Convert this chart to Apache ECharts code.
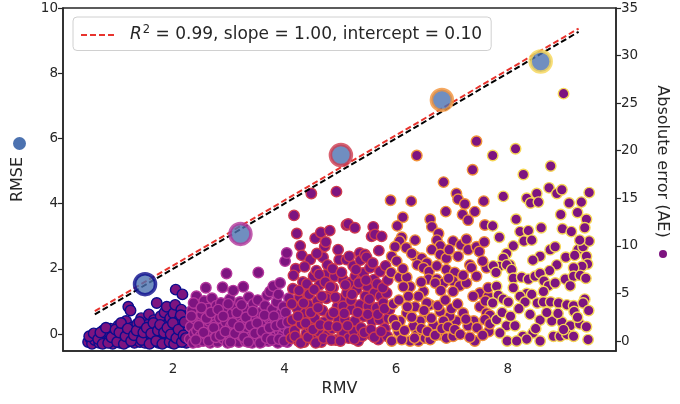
<!DOCTYPE html>
<html>
<head>
<meta charset="utf-8">
<script src="https://cdn.jsdelivr.net/npm/echarts@6/dist/echarts.min.js"></script>
<style>
  html, body { margin: 0; padding: 0; background: #fff; }
  #main { width: 680px; height: 404px; }
</style>
</head>
<body>
<div id="main"></div>
<script>
// fit stats shown in legend
const r2 = 0.99, slope = 1.00, intercept = 0.10;
const fitX = [0.6, 9.27];

// binned RMSE vs RMV (big circles, left axis)
const binRmv = [1.50, 3.21, 5.01, 6.82, 8.59];
const binRmse = [1.53, 3.07, 5.49, 7.18, 8.36];
const binColors = ['#0c0c8c', '#b4379b', '#cf3b4d', '#f29238', '#f6d655'];

// per-point absolute error vs RMV (right axis), one list per bin
const bin1 = [[0.48,-0.1],[0.52,0.3],[0.55,-0.3],[0.6,0.1],[0.63,0.6],[0.68,-0.2],[0.72,0.3],[0.75,1.1],[0.78,-0.1],[0.82,0.5],[0.86,0.1],[0.88,1.3],[0.92,-0.3],[0.95,0.7],[0.98,0.2],[1.02,1.6],[1.05,-0.2],[1.08,0.4],[1.1,1.0],[1.13,0.1],[1.16,2.1],[1.18,-0.1],[1.2,3.6],[1.22,0.6],[1.24,3.2],[1.26,1.4],[1.28,0.2],[1.31,-0.2],[1.33,0.9],[1.36,1.8],[1.38,0.3],[1.41,-0.1],[1.43,2.4],[1.45,0.7],[1.48,1.2],[1.5,-0.2],[1.52,0.2],[1.55,1.7],[1.57,2.8],[1.59,0.5],[1.62,-0.1],[1.64,1.0],[1.66,2.2],[1.68,0.3],[1.71,4.0],[1.72,1.5],[1.74,-0.2],[1.76,0.7],[1.78,2.6],[1.8,0.1],[1.82,1.2],[1.85,3.0],[1.86,-0.1],[1.88,0.6],[1.89,3.6],[1.91,1.8],[1.93,0.2],[1.95,2.4],[1.97,-0.2],[1.99,1.0],[2.01,2.9],[2.03,0.4],[2.04,3.8],[2.05,5.4],[2.07,1.5],[2.09,-0.1],[2.11,2.2],[2.13,0.8],[2.15,3.3],[2.17,4.9],[2.18,0.1],[2.2,1.7],[2.22,2.6],[2.24,-0.2],[2.26,1.1],[2.27,0.5],
  [0.5,0.5],[0.58,0.8],[0.66,0.2],[0.7,0.9],[0.74,-0.3],[0.8,1.4],[0.84,-0.2],[0.9,0.4],[0.97,1.2],[1.0,-0.1],[1.04,0.9],[1.07,1.9],[1.12,-0.3],[1.15,0.5],[1.19,1.3],[1.25,0.0],[1.3,0.6],[1.35,1.1],[1.4,2.0],[1.44,0.1],[1.47,0.9],[1.53,1.4],[1.58,-0.3],[1.61,0.8],[1.65,1.9],[1.7,0.0],[1.73,1.1],[1.77,1.7],[1.81,-0.3],[1.84,0.9],[1.9,1.4],[1.94,-0.1],[1.96,0.7],[2.0,1.9],[2.02,-0.3],[2.06,0.3],[2.1,1.2],[2.14,2.7],[2.16,-0.1],[2.19,0.6],[2.21,2.0],[2.23,0.3]];
const bin2 = [[2.3,0.2],[2.32,1.5],[2.34,3.2],[2.36,-0.2],[2.38,0.8],[2.4,2.3],[2.42,4.7],[2.43,1.1],[2.45,-0.1],[2.47,3.8],[2.49,0.5],[2.5,1.9],[2.52,2.8],[2.54,0.0],[2.56,4.2],[2.58,1.3],[2.59,5.6],[2.61,0.6],[2.63,3.4],[2.65,2.1],[2.67,-0.2],[2.69,1.0],[2.7,4.5],[2.72,2.7],[2.74,0.3],[2.76,1.7],[2.78,3.7],[2.8,-0.1],[2.82,0.9],[2.84,2.4],[2.86,4.0],[2.88,1.4],[2.89,5.65],[2.91,0.2],[2.93,3.1],[2.95,2.0],[2.96,7.1],[2.98,-0.2],[3.0,0.7],[3.02,4.4],[3.04,1.6],[3.06,2.9],[3.08,5.3],[3.1,0.1],[3.12,3.6],[3.14,1.1],[3.16,2.3],[3.18,-0.1],[3.2,4.1],[3.22,0.6],[3.24,1.8],[3.26,5.7],[3.28,2.8],[3.3,0.0],[3.32,3.3],[3.34,1.3],[3.36,4.6],[3.38,0.4],[3.4,2.2],[3.42,-0.2],[3.44,3.9],[3.46,1.0],[3.48,2.6],[3.5,0.3],[3.52,4.3],[3.53,7.2],[3.55,1.5],[3.57,3.0],[3.59,-0.1],[3.61,2.0],[3.63,0.7],[3.65,3.7],[3.67,1.2],[3.69,4.8],[3.71,0.0],[3.72,2.4],[3.74,5.2],[3.76,1.7],[3.78,3.3],[3.8,5.75],[3.82,0.4],[3.84,2.1],[3.86,4.1],[3.88,-0.2],[3.89,4.9],[3.91,1.0],[3.92,6.1],[3.94,2.9],[3.96,0.6],[3.98,3.6],[4.0,1.4],[4.01,8.4],[4.03,2.5],[4.04,9.25],[4.05,-0.1],[4.07,0.9],[4.08,4.5],
  [2.33,2.6],[2.37,4.0],[2.41,0.1],[2.46,1.6],[2.51,3.5],[2.55,0.9],[2.6,2.4],[2.64,0.0],[2.68,3.0],[2.73,1.4],[2.77,0.4],[2.81,3.3],[2.85,0.6],[2.9,2.6],[2.94,1.0],[2.99,3.9],[3.03,-0.1],[3.07,1.9],[3.11,0.8],[3.15,3.0],[3.19,1.5],[3.23,3.8],[3.27,0.4],[3.31,2.5],[3.35,-0.1],[3.39,1.6],[3.43,3.1],[3.47,0.8],[3.51,1.9],[3.56,-0.2],[3.6,1.0],[3.64,2.7],[3.68,0.3],[3.73,1.4],[3.77,0.1],[3.81,2.6],[3.85,1.6],[3.9,0.2],[3.95,1.8],[3.99,0.0],[4.02,3.0],[4.06,2.0]];
const bin3 = [[4.12,0.3],[4.14,2.2],[4.15,5.5],[4.17,13.2],[4.18,1.1],[4.2,7.6],[4.22,11.3],[4.23,3.4],[4.25,0.0],[4.27,4.6],[4.28,10.0],[4.3,1.8],[4.31,9.0],[4.33,6.2],[4.35,-0.1],[4.37,2.9],[4.39,0.8],[4.41,5.0],[4.43,3.8],[4.45,1.5],[4.46,8.55],[4.48,15.5],[4.5,0.2],[4.52,6.8],[4.54,2.4],[4.55,10.8],[4.57,7.4],[4.59,4.2],[4.61,1.0],[4.63,5.9],[4.65,11.4],[4.66,-0.1],[4.68,3.2],[4.69,8.8],[4.71,2.0],[4.72,9.95],[4.74,10.4],[4.76,0.6],[4.78,7.15],[4.8,4.8],[4.81,11.6],[4.83,2.7],[4.85,1.3],[4.87,5.6],[4.9,6.8],[4.92,0.1],[4.93,15.7],[4.95,3.6],[4.97,2.2],[4.98,8.55],[5.01,4.4],[5.03,1.0],[5.05,6.45],[5.06,0.85],[5.05,3.65],[5.08,2.25],[5.11,8.55],[5.12,5.05],[5.11,12.2],[5.14,12.3],[5.15,0.3],[5.17,6.1],[5.2,3.3],[5.23,7.9],[5.24,1.0],[5.26,11.9],[5.27,6.8],[5.26,2.1],[5.29,5.4],[5.32,0.0],[5.35,9.25],[5.36,8.5],[5.35,3.8],[5.38,6.45],[5.39,0.5],[5.41,7.15],[5.42,2.6],[5.44,9.1],[5.45,4.7],[5.47,8.8],[5.48,5.75],[5.5,3.65],[5.53,7.7],[5.54,0.7],[5.56,11.0],[5.57,2.1],[5.59,12.0],[5.6,6.45],[5.61,5.05],[5.62,11.2],[5.65,3.5],[5.68,0.15],[5.71,7.3],[5.72,4.7],[5.7,2.25],[5.74,11.0],[5.77,4.0],[5.8,1.3],[5.83,5.05],[5.84,0.5],[5.86,2.4],[5.88,3.3],
  [4.13,3.9],[4.19,0.5],[4.24,2.6],[4.29,-0.2],[4.34,4.0],[4.38,1.9],[4.42,0.4],[4.47,3.0],[4.51,1.2],[4.56,-0.2],[4.6,3.5],[4.64,1.7],[4.7,0.3],[4.75,4.5],[4.79,1.6],[4.84,0.1],[4.88,3.0],[4.94,1.5],[5.0,0.0],[5.07,2.9],[5.13,1.6],[5.19,4.3],[5.25,0.2],[5.31,3.0],[5.37,1.4],[5.43,0.9],[5.49,2.8],[5.55,1.2],[5.61,0.4],[5.67,2.8],[5.73,1.0],[5.79,3.4],
  [4.16,6.9],[4.26,5.3],[4.36,7.8],[4.4,6.0],[4.44,4.9],[4.53,5.4],[4.58,9.2],[4.62,7.0],[4.67,4.7],[4.73,6.2],[4.77,8.0],[4.82,5.7],[4.86,7.6],[4.91,4.6],[4.96,9.6],[5.02,7.2],[5.09,5.9],[5.16,8.9],[5.21,4.9],[5.28,7.5],[5.33,6.1],[5.46,6.4],[5.52,4.4],[5.58,8.2],[5.66,6.0],[5.69,9.5],[5.76,5.6],[5.81,7.9],[5.85,6.4]];
const bin4 = [[5.9,14.8],[6.27,14.7],[6.37,19.5],[6.85,16.7],[7.08,15.5],[7.11,14.9],[7.23,14.4],[7.57,14.7],[6.89,13.6],[7.19,13.3],[7.29,12.7],[7.41,13.6],[6.61,12.8],[6.64,12.0],[6.76,11.3],[6.12,13.0],[6.02,12.1],[7.59,12.2],[7.44,21.0],[7.37,18.0],
  [6.1,10.9],[6.06,10.5],[5.98,9.9],[6.34,10.6],[6.18,9.8],[6.73,10.6],[6.79,10.0],[6.64,9.6],[6.79,9.1],[6.9,8.7],[7.02,10.5],[7.16,10.1],[7.29,9.6],[7.26,10.7],[7.44,9.9],[7.49,9.4],[7.11,8.9],
  [5.92,8.9],[6.01,8.4],[5.91,7.2],[6.06,6.7],[6.19,6.7],[6.25,5.7],[6.13,5.7],[6.34,8.9],[6.46,8.7],[6.38,8.0],[6.55,8.2],[6.49,7.7],[6.59,7.3],[6.73,7.9],[6.58,6.5],[6.73,6.5],[6.9,7.5],[7.05,7.2],[7.02,6.3],[7.14,5.8],[7.26,6.1],[7.32,8.0],[7.35,7.7],[7.44,6.8],[7.62,7.7],
  [7.5,5.05],[7.65,4.7],[7.5,3.6],[7.62,2.95],[7.68,2.7],[7.59,2.25],[7.66,1.0],[7.38,4.7],[7.39,2.1],[7.41,0.0],[7.29,1.6],[7.2,2.95],[7.08,2.1],[6.96,2.6],[6.79,3.1],[6.85,2.1],[6.67,1.7],[6.79,0.65],[6.9,0.3],[7.02,0.5],[6.61,3.8],[6.52,2.6],[6.43,2.1],[6.31,1.55],[6.37,0.65],[6.25,0.0],[6.4,0.0],[6.52,0.3],[6.61,0.15],[6.19,2.95],[6.07,2.1],[5.95,2.25],[6.04,1.0],[5.92,0.0],[6.1,0.15],[6.85,6.1],[6.94,6.6],[7.02,5.2],[6.7,6.1],[6.49,5.2],[6.4,4.7],[6.22,4.7],[6.34,3.6],[6.55,4.0],[7.65,5.6],
  [5.95,3.9],[6.0,1.6],[6.05,4.3],[6.15,1.1],[6.2,3.6],[6.28,2.5],[6.33,0.3],[6.45,1.3],[6.5,3.2],[6.56,1.0],[6.63,2.4],[6.7,0.6],[6.75,3.7],[6.82,1.3],[6.88,4.3],[6.93,1.5],[6.99,3.4],[7.05,1.2],[7.1,3.9],[7.15,0.7],[7.25,2.3],[7.32,0.4],[7.45,1.4],[7.55,0.6],[7.6,4.2],[7.68,1.8],[6.12,7.6],[6.45,6.2],[6.8,5.3],[7.2,6.9],[7.55,8.4],[6.28,9.2],[6.95,9.6],[7.58,10.4]];
const bin5 = [[7.73,19.5],[8.14,20.2],[8.28,17.5],[8.77,18.4],[9.0,26.0],[7.92,15.2],[8.34,15.0],[8.52,15.5],[8.41,14.5],[8.55,14.6],[8.74,16.1],[8.88,15.5],[8.97,15.9],[9.46,15.6],[7.73,12.1],[8.22,11.5],[8.37,11.6],[8.29,10.5],[8.43,10.6],[9.1,14.5],[9.25,13.5],[9.32,14.6],[9.41,12.8],[9.38,11.9],[8.98,11.8],[9.14,11.5],[7.98,9.2],[8.1,10.0],[7.92,8.7],[8.04,8.0],[7.85,7.85],[8.58,8.9],[8.76,9.6],[8.85,9.9],[9.04,8.8],[9.26,9.6],[9.35,9.9],[9.46,10.5],[9.29,10.6],[9.41,8.9],[9.43,8.1],[9.33,7.85],[9.18,7.7],[8.88,8.0],[8.75,7.4],[9.03,6.5],[9.18,6.8],[9.12,5.8],[9.3,6.9],[9.4,6.6],[7.74,7.9],[7.79,7.2],[7.98,8.0],[8.07,7.5],[8.1,6.6],[8.25,6.7],[8.37,6.5],[8.49,6.8],[8.58,7.1],[8.65,6.3],[8.73,5.8],[8.85,6.1],[8.64,5.2],[8.34,5.0],[8.1,5.6],[7.8,5.75],[7.83,4.8],[7.92,4.4],[7.73,4.0],[8.01,4.1],[8.22,4.7],[8.31,4.1],[8.43,4.9],[8.53,4.0],[8.64,4.1],[8.77,4.1],[8.91,4.0],[9.06,3.8],[9.18,3.7],[9.19,3.1],[9.38,4.4],[9.35,4.0],[8.58,2.2],[8.79,2.1],[8.97,2.0],[9.12,1.6],[9.29,1.8],[9.41,1.5],[7.98,1.6],[8.13,1.6],[8.27,0.5],[8.45,0.85],[8.58,0.0],[8.82,0.5],[8.94,0.5],[9.06,0.7],[9.18,0.5],[9.44,0.15],[7.99,0.0],[8.16,0.0],[8.34,0.2],[7.8,2.25],[7.86,0.85],
  [7.9,3.0],[8.05,2.6],[8.2,3.4],[8.4,2.8],[8.5,1.3],[8.7,3.0],[8.9,2.9],[9.0,1.2],[9.25,2.5],[9.45,3.2],[8.15,12.8],[8.6,11.9],[8.95,13.3],[7.85,10.9],[8.45,8.5],[9.2,9.0]];

const rmseTicks = [0, 2, 4, 6, 8, 10];
const aeTicks = [0, 5, 10, 15, 20, 25, 30, 35];
const rmvTicks = [2, 4, 6, 8];

const ink = '#262626';
const pointFill = '#7d1480';
const fitColor = '#e8342e';
const font = 'DejaVu Sans';

var chartDom = document.getElementById('main');
var myChart = echarts.init(chartDom, null, {renderer: 'canvas'});

const fitName = 'fit';
const fitLine = fitX.map(x => [x, slope * x + intercept]);
const idealLine = fitX.map(x => [x, x]);

let series = [];
[bin1, bin2, bin3, bin4, bin5].forEach((pts, i) => {
    series.push({
        type: 'scatter', yAxisIndex: 1, data: pts, symbolSize: 10.5,
        itemStyle: {color: pointFill, borderColor: binColors[i], borderWidth: 1.4, opacity: 1},
        silent: true, z: 2
    });
});

series.push({
    name: 'ideal', type: 'line', yAxisIndex: 0, data: idealLine, symbol: 'none',
    lineStyle: {color: '#000', width: 2, type: [6, 3]}, z: 3, silent: true
});
series.push({
    name: fitName, type: 'line', yAxisIndex: 0, data: fitLine, symbol: 'none',
    itemStyle: {color: fitColor},
    lineStyle: {color: fitColor, width: 2, type: [6, 3]}, z: 4, silent: true
});
series.push({
    type: 'scatter', yAxisIndex: 0, symbolSize: 21, z: 5, silent: true,
    data: binRmv.map((x, i) => ({
        value: [x, binRmse[i]],
        itemStyle: {color: '#4c72b0', borderColor: binColors[i], borderWidth: 3.5}
    }))
});

var option = {
    animation: false,
    backgroundColor: '#fff',
    textStyle: {fontFamily: font},
    grid: {left: 63, right: 64, top: 8, bottom: 53, show: true, borderColor: ink, borderWidth: 1.5, backgroundColor: 'transparent'},
    legend: {
        data: [fitName],
        left: 73, top: 17,
        padding: [7, 9, 7, 7],
        borderColor: '#d0d0d0', borderWidth: 1, borderRadius: 4,
        backgroundColor: 'rgba(255,255,255,0.8)',
        itemWidth: 36, itemHeight: 12,
        itemStyle: {opacity: 0},
        lineStyle: {color: fitColor, width: 2, type: [6, 3]},
        formatter: () => `{i|R}{s|2} = ${r2.toFixed(2)}, slope = ${slope.toFixed(2)}, intercept = ${intercept.toFixed(2)}`,
        textStyle: {
            fontFamily: font, fontSize: 17, color: ink, padding: [0, 0, 0, 8],
            rich: {
                i: {fontFamily: font, fontSize: 17, fontStyle: 'italic', color: ink},
                s: {fontFamily: font, fontSize: 11.5, color: ink, padding: [0, 0, 10, 1]}
            }
        }
    },
    xAxis: {
        type: 'value', min: 0.03, max: 9.94,
        name: 'RMV', nameLocation: 'middle', nameGap: 28,
        nameTextStyle: {fontFamily: font, fontSize: 16, color: ink},
        splitLine: {show: false},
        axisLine: {show: true, onZero: false, lineStyle: {color: ink, width: 1.5}},
        axisTick: {show: false},
        axisLabel: {customValues: rmvTicks, fontFamily: font, fontSize: 13.5, color: ink, margin: 11}
    },
    yAxis: [
        {
            type: 'value', min: -0.52, max: 10, position: 'left',
            name: 'RMSE', nameLocation: 'middle', nameRotate: 90, nameGap: 37,
            nameTextStyle: {fontFamily: font, fontSize: 16, color: ink},
            splitLine: {show: false},
            axisLine: {show: true, onZero: false, lineStyle: {color: ink, width: 1.5}},
            axisTick: {show: true, customValues: rmseTicks, length: 5, lineStyle: {color: ink, width: 1.2}},
            axisLabel: {customValues: rmseTicks, fontFamily: font, fontSize: 13.5, color: ink, margin: 5}
        },
        {
            type: 'value', min: -1.05, max: 35, position: 'right',
            name: 'Absolute error (AE)', nameLocation: 'middle', nameRotate: -90, nameGap: 38,
            nameTextStyle: {fontFamily: font, fontSize: 16, color: ink, padding: [0, 36, 0, 0]},
            splitLine: {show: false},
            axisLine: {show: true, onZero: false, lineStyle: {color: ink, width: 1.5}},
            axisTick: {show: true, customValues: aeTicks, length: 5, lineStyle: {color: ink, width: 1.2}},
            axisLabel: {customValues: aeTicks, fontFamily: font, fontSize: 13.5, color: ink, margin: 5}
        }
    ],
    graphic: [
        // marker swatches next to the axis titles
        {type: 'circle', left: 13, top: 137, shape: {r: 6.5}, style: {fill: '#4c72b0'}},
        {type: 'circle', left: 659, top: 250, shape: {r: 4}, style: {fill: pointFill}}
    ],
    series: series
};
option && myChart.setOption(option);
</script>
</body>
</html>
